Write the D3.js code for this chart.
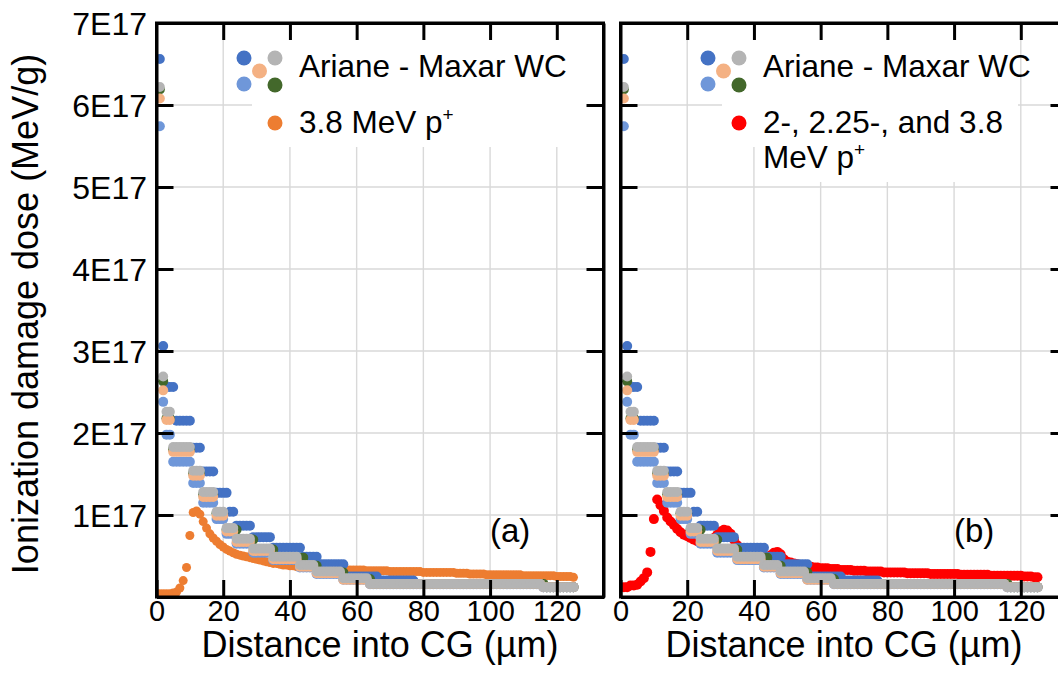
<!DOCTYPE html>
<html><head><meta charset="utf-8">
<script src="https://cdn.jsdelivr.net/npm/d3@7"></script>
<style>
body{margin:0;background:#fff}
svg{display:block}
text{font-family:"Liberation Sans",Arial,sans-serif;fill:#000}
</style>
</head><body>
<svg id="c" width="1058" height="683"></svg>
<script>
// ---------- data (dose in units of 1E17 MeV/g, depth in µm) ----------
const depth = [1,2,3,4,5,6,7,8,9,10,11,12,13,14,15,16,17,18,19,20,21,22,23,24,25,26,27,28,29,30,
31,32,33,34,35,36,37,38,39,40,41,42,43,44,45,46,47,48,49,50,51,52,53,54,55,56,57,58,59,60,
61,62,63,64,65,66,67,68,69,70,71,72,73,74,75,76,77,78,79,80,81,82,83,84,85,86,87,88,89,90,
91,92,93,94,95,96,97,98,99,100,101,102,103,104,105,106,107,108,109,110,111,112,113,114,115,
116,117,118,119,120,121,122,123,124,125];

const arianeDarkBlue = [
6.56,3.06,2.56,2.56,2.56,2.15,2.15,2.15,2.15,2.15,
1.82,1.82,1.82,1.53,1.53,1.53,1.53,1.27,1.27,1.27,
1.27,1.04,1.04,0.87,0.87,0.87,0.87,0.87,0.73,0.73,
0.73,0.73,0.73,0.73,0.60,0.60,0.60,0.60,0.60,0.60,
0.60,0.60,0.60,0.49,0.49,0.49,0.49,0.49,0.40,0.40,
0.40,0.40,0.40,0.40,0.40,0.40,0.25,0.25,0.25,0.25,
0.25,0.25,0.25,0.25,0.25,0.25,0.20,0.20,0.20,0.20,
0.20,0.20,0.20,0.20,0.20,0.20,0.20,0.16,0.16,0.16,
0.16,0.16,0.16,0.16,0.16,0.16,0.16,0.16,0.16,0.16,
0.16,0.16,0.16,0.16,0.16,0.16,0.16,0.16,0.16,0.16,
0.16,0.16,0.16,0.16,0.16,0.16,0.16,0.16,0.16,0.16,
0.16,0.16,0.16,0.16,0.16,0.12,0.12,0.12,0.12,0.12,
0.12,0.12,0.12,0.12,0.12];

const arianeLightBlue = [
5.74,2.38,1.98,1.98,1.65,1.65,1.65,1.65,1.65,1.65,
1.39,1.39,1.39,1.15,1.15,1.15,1.15,0.95,0.95,0.95,
0.77,0.77,0.77,0.65,0.65,0.65,0.65,0.65,0.54,0.54,
0.54,0.54,0.54,0.54,0.45,0.45,0.45,0.45,0.45,0.45,
0.45,0.45,0.36,0.36,0.36,0.36,0.36,0.28,0.28,0.28,
0.28,0.28,0.28,0.28,0.28,0.21,0.21,0.21,0.21,0.21,
0.21,0.21,0.21,0.155,0.155,0.155,0.155,0.155,0.155,0.155,
0.155,0.155,0.155,0.155,0.155,0.155,0.155,0.155,0.155,0.155,
0.155,0.155,0.155,0.155,0.155,0.155,0.155,0.155,0.155,0.155,
0.155,0.155,0.155,0.155,0.155,0.155,0.155,0.155,0.155,0.155,
0.155,0.155,0.155,0.155,0.155,0.155,0.155,0.155,0.155,0.155,
0.155,0.155,0.155,0.155,0.155,0.12,0.12,0.12,0.12,0.12,
0.12,0.12,0.12,0.12,0.12];

const arianePeach = [
6.08,2.52,2.16,2.16,1.77,1.77,1.77,1.77,1.77,1.77,
1.48,1.48,1.48,1.22,1.22,1.22,1.22,0.99,0.99,0.99,
0.80,0.80,0.80,0.67,0.67,0.67,0.67,0.67,0.56,0.56,
0.56,0.56,0.56,0.56,0.46,0.46,0.46,0.46,0.46,0.46,
0.46,0.46,0.37,0.37,0.37,0.37,0.37,0.29,0.29,0.29,
0.29,0.29,0.29,0.29,0.29,0.21,0.21,0.21,0.21,0.21,
0.21,0.21,0.21,0.16,0.16,0.16,0.16,0.16,0.16,0.16,
0.16,0.16,0.16,0.16,0.16,0.16,0.16,0.16,0.16,0.16,
0.16,0.16,0.16,0.16,0.16,0.16,0.16,0.16,0.16,0.16,
0.16,0.16,0.16,0.16,0.16,0.16,0.16,0.16,0.16,0.16,
0.16,0.16,0.16,0.16,0.16,0.16,0.16,0.16,0.16,0.16,
0.16,0.16,0.16,0.16,0.16,0.12,0.12,0.12,0.12,0.12,
0.12,0.12,0.12,0.12,0.12];

const arianeGreen = [
6.19,2.63,2.18,2.18,1.80,1.80,1.80,1.80,1.80,1.80,
1.51,1.51,1.51,1.25,1.25,1.25,1.25,1.02,1.02,1.02,
0.82,0.82,0.82,0.82,0.70,0.70,0.70,0.70,0.70,0.58,
0.58,0.58,0.58,0.58,0.58,0.48,0.48,0.48,0.48,0.48,
0.48,0.48,0.48,0.48,0.38,0.38,0.38,0.38,0.30,0.30,
0.30,0.30,0.30,0.30,0.30,0.30,0.22,0.22,0.22,0.22,
0.22,0.22,0.22,0.22,0.16,0.16,0.16,0.16,0.16,0.16,
0.16,0.16,0.16,0.16,0.16,0.16,0.16,0.16,0.16,0.16,
0.16,0.16,0.16,0.16,0.16,0.16,0.16,0.16,0.16,0.16,
0.16,0.16,0.16,0.16,0.16,0.16,0.16,0.16,0.16,0.16,
0.16,0.16,0.16,0.16,0.16,0.16,0.16,0.16,0.16,0.16,
0.16,0.16,0.16,0.16,0.16,0.16,0.12,0.12,0.12,0.12,
0.12,0.12,0.12,0.12,0.12];

const arianeGrey = [
6.22,2.69,2.26,2.26,1.83,1.83,1.83,1.83,1.83,1.83,
1.54,1.54,1.54,1.28,1.28,1.28,1.28,1.04,1.04,1.04,
0.84,0.84,0.84,0.71,0.71,0.71,0.71,0.71,0.59,0.59,
0.59,0.59,0.59,0.59,0.49,0.49,0.49,0.49,0.49,0.49,
0.49,0.49,0.39,0.39,0.39,0.39,0.39,0.31,0.31,0.31,
0.31,0.31,0.31,0.31,0.31,0.23,0.23,0.23,0.23,0.23,
0.23,0.23,0.23,0.16,0.16,0.16,0.16,0.16,0.16,0.16,
0.16,0.16,0.16,0.16,0.16,0.16,0.16,0.16,0.16,0.16,
0.16,0.16,0.16,0.16,0.16,0.16,0.16,0.16,0.16,0.16,
0.16,0.16,0.16,0.16,0.16,0.16,0.16,0.16,0.16,0.16,
0.16,0.16,0.16,0.16,0.16,0.16,0.16,0.16,0.16,0.16,
0.16,0.16,0.16,0.16,0.16,0.12,0.12,0.12,0.12,0.12,
0.12,0.12,0.12,0.12,0.12];

// 3.8 MeV p+ (panel a), depth 0..125
const depth38 = [0,1,2,3,4,5,6,7,8,9,10,11,12,13,14,15,16,17,18,19,20,21,22,23,24,25,26,27,28,29,30,
31,32,33,34,35,36,37,38,39,40,41,42,43,44,45,46,47,48,49,50,51,52,53,54,55,56,57,58,59,60,
61,62,63,64,65,66,67,68,69,70,71,72,73,74,75,76,77,78,79,80,81,82,83,84,85,86,87,88,89,90,
91,92,93,94,95,96,97,98,99,100,101,102,103,104,105,106,107,108,109,110,111,112,113,114,115,
116,117,118,119,120,121,122,123,124,125];
const dose38 = [
0.04,0.04,0.04,0.04,0.04,0.05,0.06,0.11,0.20,0.36,
0.75,1.03,1.05,1.01,0.92,0.84,0.77,0.72,0.68,0.64,
0.61,0.58,0.56,0.54,0.52,0.51,0.50,0.49,0.48,0.47,
0.46,0.45,0.44,0.43,0.42,0.41,0.41,0.40,0.39,0.39,
0.38,0.38,0.37,0.37,0.37,0.36,0.36,0.36,0.35,0.35,
0.35,0.35,0.34,0.34,0.34,0.34,0.34,0.33,0.33,0.33,
0.33,0.33,0.33,0.32,0.32,0.32,0.32,0.32,0.32,0.32,
0.31,0.31,0.31,0.31,0.31,0.31,0.31,0.31,0.31,0.31,
0.30,0.30,0.30,0.30,0.30,0.30,0.30,0.30,0.30,0.30,
0.29,0.29,0.29,0.29,0.28,0.28,0.28,0.28,0.28,0.27,
0.27,0.27,0.27,0.27,0.27,0.27,0.27,0.27,0.27,0.27,
0.26,0.26,0.26,0.26,0.26,0.26,0.26,0.26,0.26,0.26,
0.25,0.25,0.25,0.25,0.25,0.24];

// 2-, 2.25-, and 3.8 MeV p+ (panel b), depth 1..125
const doseMulti = [
0.12,0.12,0.14,0.14,0.15,0.19,0.23,0.30,0.55,0.95,
1.19,1.12,1.05,0.97,0.92,0.88,0.83,0.79,0.76,0.74,
0.72,0.70,0.68,0.66,0.66,0.67,0.69,0.72,0.76,0.80,
0.82,0.81,0.77,0.70,0.63,0.59,0.56,0.54,0.52,0.50,
0.49,0.48,0.48,0.49,0.51,0.54,0.55,0.52,0.46,0.43,
0.42,0.41,0.40,0.39,0.38,0.37,0.37,0.36,0.36,0.35,
0.35,0.35,0.34,0.34,0.34,0.33,0.33,0.33,0.33,0.32,
0.32,0.32,0.32,0.31,0.31,0.31,0.31,0.31,0.30,0.30,
0.30,0.30,0.30,0.30,0.30,0.29,0.29,0.29,0.29,0.29,
0.29,0.29,0.28,0.28,0.28,0.28,0.28,0.28,0.28,0.28,
0.28,0.27,0.27,0.27,0.27,0.27,0.27,0.27,0.27,0.27,
0.26,0.26,0.26,0.26,0.26,0.26,0.26,0.26,0.26,0.26,
0.25,0.25,0.25,0.24,0.24];

const xTicks = [0,20,40,60,80,100,120];
const yTicks = [1,2,3,4,5,6,7];
const yTickLabels = ["1E17","2E17","3E17","4E17","5E17","6E17","7E17"];
const xDomain = [0,134];
const yDomain = [0,7];
const arianeLabel = "Ariane - Maxar WC";
const panelLabels = ["(a)","(b)"];

// ---------- drawing ----------
const svg = d3.select("#c");
const W = 447, plotTop = 23, plotBottom = 597;
const y = d3.scaleLinear().domain(yDomain).range([plotBottom, plotTop]);

// draw order: dark blue, light blue, green, peach, grey (grey on top)
const arianeSeries = [
  {vals: arianeDarkBlue, color:"#4472C4"},
  {vals: arianeLightBlue, color:"#6F97D9"},
  {vals: arianeGreen, color:"#43682B"},
  {vals: arianePeach, color:"#F4B183"},
  {vals: arianeGrey, color:"#B4B4B4"}
];

function drawPanel(idx, x0, hi) {
  const x = d3.scaleLinear().domain(xDomain).range([x0, x0 + W]);
  const g = svg.append("g");
  const clipId = "clip" + idx;
  svg.append("clipPath").attr("id", clipId).append("rect")
    .attr("x", x0).attr("y", plotTop).attr("width", W).attr("height", plotBottom - plotTop);

  // grid
  g.append("g").selectAll("line").data(xTicks.filter(d => d > 0)).join("line")
    .attr("x1", d => x(d)).attr("x2", d => x(d)).attr("y1", plotTop).attr("y2", plotBottom)
    .attr("stroke", "#d9d9d9").attr("stroke-width", 1.4);
  g.append("g").selectAll("line").data(yTicks.filter(d => d < 7)).join("line")
    .attr("x1", x0).attr("x2", x0 + W).attr("y1", d => y(d)).attr("y2", d => y(d))
    .attr("stroke", "#d9d9d9").attr("stroke-width", 1.4);

  // legend backgrounds
  hi.legendBg.forEach(r => g.append("rect").attr("x", r[0]).attr("y", r[1])
    .attr("width", r[2]).attr("height", r[3]).attr("fill", "#fff"));

  const data = g.append("g").attr("clip-path", `url(#${clipId})`);
  // highlighted series (drawn beneath)
  data.append("g").selectAll("circle").data(hi.depth.map((d, i) => [d, hi.vals[i]])).join("circle")
    .attr("cx", d => x(d[0])).attr("cy", d => y(d[1])).attr("r", hi.r).attr("fill", hi.color);
  arianeSeries.forEach(s => {
    data.append("g").selectAll("circle").data(depth.map((d, i) => [d, s.vals[i]])).join("circle")
      .attr("cx", d => x(d[0])).attr("cy", d => y(d[1])).attr("r", 5).attr("fill", s.color);
  });

  // axes
  const axG = g.append("g");
  const bottomAx = d3.axisBottom(x).tickValues(xTicks).tickSizeInner(-17).tickSizeOuter(0)
    .tickFormat(d => d);
  const bA = axG.append("g").attr("transform", `translate(0,${plotBottom})`).call(bottomAx);
  bA.selectAll("text").attr("font-size", 29).attr("font-family", "Liberation Sans, Arial, sans-serif")
    .attr("y", 3).attr("dy", "0.71em").attr("fill", "#000");
  const topAx = d3.axisTop(x).tickValues(xTicks.filter(d => d > 0)).tickSizeInner(-17).tickSizeOuter(0).tickFormat("");
  axG.append("g").attr("transform", `translate(0,${plotTop})`).call(topAx);
  const leftAx = d3.axisLeft(y).tickValues(yTicks.filter(d => d < 7)).tickSizeInner(-17).tickSizeOuter(0).tickFormat("");
  axG.append("g").attr("transform", `translate(${x0},0)`).call(leftAx);
  const rightAx = d3.axisRight(y).tickValues(yTicks.filter(d => d < 7)).tickSizeInner(-17).tickSizeOuter(0).tickFormat("");
  axG.append("g").attr("transform", `translate(${x0 + W},0)`).call(rightAx);
  axG.selectAll("path.domain").attr("stroke", "#000").attr("stroke-width", 3);
  axG.selectAll(".tick line").attr("stroke", "#000").attr("stroke-width", 3);
  axG.append("rect").attr("x", x0).attr("y", plotTop).attr("width", W).attr("height", plotBottom - plotTop)
    .attr("fill", "none").attr("stroke", "#000").attr("stroke-width", 3);

  // panel label
  g.append("text").attr("x", x(106)).attr("y", 542).attr("text-anchor", "middle")
    .attr("font-size", 33).text(panelLabels[idx]);

  // x title
  g.append("text").attr("x", x0 + W / 2).attr("y", 657).attr("text-anchor", "middle")
    .attr("font-size", 36).text("Distance into CG (µm)");

  // legend markers
  const L = hi.legend;
  const mk = [
    [0, 0, "#4472C4"], [31, 0, "#B4B4B4"], [15.5, 13, "#F4B183"],
    [0, 26, "#6F97D9"], [31, 27, "#43682B"]
  ];
  mk.forEach(m => g.append("circle").attr("cx", L.mx + m[0]).attr("cy", L.my + m[1]).attr("r", 7.5).attr("fill", m[2]));
  g.append("text").attr("x", L.tx).attr("y", 77).attr("font-size", 31.5).text(arianeLabel);
  g.append("circle").attr("cx", L.mx + 31).attr("cy", 123).attr("r", 7.5).attr("fill", hi.color);
  hi.lines.forEach((ln, i) => {
    const t = g.append("text").attr("x", L.tx).attr("y", 133 + i * 35).attr("font-size", 31.5);
    t.append("tspan").text(ln.text);
    if (ln.sup) t.append("tspan").attr("font-size", 19).attr("dy", -12).text(ln.sup);
  });
}

drawPanel(0, 156.5, {
  depth: depth38, vals: dose38, color: "#ED7D31", r: 4.5,
  legendBg: [[252, 28, 348, 119]],
  legend: {mx: 244, my: 58, tx: 299},
  lines: [{text: "3.8 MeV p", sup: "+"}]
});
drawPanel(1, 620.5, {
  depth: depth, vals: doseMulti, color: "#FF0000", r: 5,
  legendBg: [[722, 28, 296, 119], [755, 147, 263, 35]],
  legend: {mx: 708, my: 58, tx: 763},
  lines: [{text: "2-, 2.25-, and 3.8"}, {text: "MeV p", sup: "+"}]
});

// y tick labels (panel a only)
svg.append("g").selectAll("text").data(yTicks).join("text")
  .attr("x", 147).attr("y", d => y(d) + 12).attr("text-anchor", "end").attr("font-size", 32)
  .text((d, i) => yTickLabels[i]);

// y title
svg.append("text").attr("transform", "translate(38,314) rotate(-90)").attr("text-anchor", "middle")
  .attr("font-size", 36).text("Ionization damage dose (MeV/g)");
</script>
</body></html>
